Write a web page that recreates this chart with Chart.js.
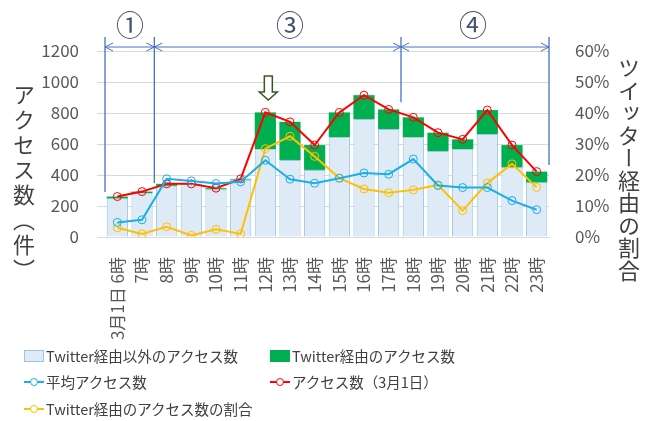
<!DOCTYPE html>
<html>
<head>
<meta charset="utf-8">
<script src="https://cdn.jsdelivr.net/npm/chart.js@4/dist/chart.umd.min.js"></script>
<style>
  body { margin: 0; background: #fff; font-family: 'Noto Sans CJK JP', sans-serif; }
  #wrap { position: relative; width: 654px; height: 421px; overflow: hidden; }
  canvas { position: absolute; left: 0; top: 0; }
  .vt { position: absolute; writing-mode: vertical-rl; color: #404040; font-size: 22px; line-height: 1; }
  .num { position: absolute; color: #44546A; font-size: 28px; line-height: 1; transform: translate(-50%, -50%); }
  .lg { position: absolute; font-size: 14.5px; color: #404040; line-height: 1; display: flex; align-items: center; }
  .sw { display: inline-block; width: 18px; height: 10px; margin-right: 2px; }
  .ln { position: relative; display: inline-block; width: 20px; height: 10px; margin-right: 2px; }
  .ln::before { content: ''; position: absolute; left: 0; right: 0; top: 4px; height: 2px; background: var(--c); }
  .ln::after { content: ''; position: absolute; left: 6px; top: 1px; width: 6px; height: 6px; border: 1px solid var(--c); border-radius: 50%; background: #fff; }
</style>
</head>
<body>
<div id="wrap">
  <canvas id="chart" width="654" height="421"></canvas>
  <div class="vt" style="left:13px; top:84px; letter-spacing:3px;">アクセス数（件）</div>
  <div class="vt" style="left:618px; top:57px; letter-spacing:0.5px;">ツイッター経由の割合</div>
  <div class="num" style="left:130px; top:24px;">①</div>
  <div class="num" style="left:290px; top:24px;">③</div>
  <div class="num" style="left:473px; top:24px;">④</div>

  <div class="lg" style="left:24px; top:349px;"><span class="sw" style="background:#DEEBF7; border:1px solid #9DC3E6;"></span>Twitter経由以外のアクセス数</div>
  <div class="lg" style="left:270px; top:349px;"><span class="sw" style="background:#00B050; width:20px; height:12px;"></span>Twitter経由のアクセス数</div>
  <div class="lg" style="left:24px; top:375px;"><span class="ln" style="--c:#1AAFE6;"></span>平均アクセス数</div>
  <div class="lg" style="left:270px; top:375px;"><span class="ln" style="--c:#FF0000;"></span>アクセス数（3月1日）</div>
  <div class="lg" style="left:24px; top:402px;"><span class="ln" style="--c:#FFC000;"></span>Twitter経由のアクセス数の割合</div>
</div>
<script>
// data
const hours = ['3月1日 6時', '7時', '8時', '9時', '10時', '11時', '12時', '13時', '14時',
  '15時', '16時', '17時', '18時', '19時', '20時', '21時', '22時', '23時'];
const otherAccess = [248, 283, 330, 340, 307, 370, 566, 497, 433, 643, 761, 696, 643, 555, 566, 664, 448, 351];
const twitterAccess = [13, 10, 13, 3, 8, 5, 238, 246, 160, 161, 154, 127, 129, 118, 64, 155, 145, 71];
const avgAccess = [94, 111, 375, 362, 345, 356, 495, 373, 347, 379, 413, 405, 503, 332, 319, 319, 235, 176];
const totalAccess = [261, 293, 343, 343, 315, 375, 804, 743, 593, 804, 915, 823, 772, 673, 630, 819, 593, 422];
const twitterRatio = [3, 1, 3.3, 0.5, 2.5, 1, 28.5, 32.5, 26, 19, 15.5, 14.3, 15.2, 16.8, 8.5, 17.4, 23.6, 16];

Chart.defaults.font.family = "'Noto Sans CJK JP', sans-serif";
Chart.defaults.color = '#595959';

// arrows and section lines over the plot
const marks = {
  id: 'marks',
  afterDatasetsDraw(chart) {
    const { ctx, chartArea: a, scales: { x, y } } = chart;
    const mid = i => (x.getPixelForValue(i) + x.getPixelForValue(i + 1)) / 2;
    const xs = [a.left, mid(1), mid(11), a.right];
    const ends = [291, 349, 870, 465];
    const ay = a.top - 4;
    ctx.save();
    ctx.strokeStyle = '#4472C4';
    ctx.lineWidth = 1.3;
    xs.forEach((px, i) => {
      ctx.beginPath();
      ctx.moveTo(px, a.top - 14);
      ctx.lineTo(px, y.getPixelForValue(ends[i]));
      ctx.stroke();
    });
    ctx.lineWidth = 1;
    for (let i = 0; i < 3; i++) {
      const l = xs[i], r = xs[i + 1];
      ctx.beginPath();
      ctx.moveTo(l, ay); ctx.lineTo(r, ay);
      ctx.moveTo(l + 8, ay - 4); ctx.lineTo(l, ay); ctx.lineTo(l + 8, ay + 4);
      ctx.moveTo(r - 8, ay - 4); ctx.lineTo(r, ay); ctx.lineTo(r - 8, ay + 4);
      ctx.stroke();
    }
    // down arrow above 12時
    const cx = x.getPixelForValue(6) + 3, t = a.top + 25;
    ctx.beginPath();
    ctx.moveTo(cx - 4, t); ctx.lineTo(cx + 4, t); ctx.lineTo(cx + 4, t + 16);
    ctx.lineTo(cx + 9, t + 16); ctx.lineTo(cx, t + 24); ctx.lineTo(cx - 9, t + 16);
    ctx.lineTo(cx - 4, t + 16); ctx.closePath();
    ctx.fillStyle = '#fff';
    ctx.fill();
    ctx.strokeStyle = '#385723';
    ctx.lineWidth = 1.5;
    ctx.stroke();
    ctx.restore();
  }
};

const lineStyle = c => ({
  type: 'line', borderColor: c, borderWidth: 2, pointRadius: 4,
  pointBorderColor: c, pointBackgroundColor: 'rgba(255,255,255,0)', pointBorderWidth: 1, order: 1
});

new Chart(document.getElementById('chart'), {
  data: {
    labels: hours,
    datasets: [
      { type: 'bar', label: 'Twitter経由以外のアクセス数', data: otherAccess, backgroundColor: '#DEEBF7',
        borderColor: '#9DC3E6', borderWidth: 1, stack: 'bars', order: 2 },
      { type: 'bar', label: 'Twitter経由のアクセス数', data: twitterAccess, backgroundColor: '#00B050',
        borderWidth: 0, stack: 'bars', order: 2 },
      { ...lineStyle('#1AAFE6'), label: '平均アクセス数', data: avgAccess, stack: 'avg' },
      { ...lineStyle('#FF0000'), label: 'アクセス数（3月1日）', data: totalAccess, stack: 'total' },
      { ...lineStyle('#FFC000'), label: 'Twitter経由のアクセス数の割合', data: twitterRatio, yAxisID: 'y1' }
    ]
  },
  options: {
    responsive: false,
    animation: false,
    layout: { padding: { top: 51, left: 0, right: 0, bottom: 0 } },
    datasets: { bar: { barPercentage: 0.86, categoryPercentage: 1 } },
    plugins: { legend: { display: false }, tooltip: { enabled: false } },
    scales: {
      x: {
        stacked: true,
        grid: { display: false },
        border: { color: '#D9D9D9' },
        ticks: { autoSkip: false, minRotation: 90, maxRotation: 90, padding: 12, font: { size: 17 } },
        afterFit: s => { s.height = 184; }
      },
      y: {
        stacked: true, min: 0, max: 1200,
        grid: { color: '#D9D9D9' },
        border: { display: false },
        ticks: { stepSize: 200, padding: 18, font: { size: 17 }, callback: v => String(v) },
        afterFit: s => { s.width = 105; }
      },
      y1: {
        position: 'right', min: 0, max: 60,
        grid: { display: false },
        border: { display: false },
        ticks: { stepSize: 10, padding: 18, font: { size: 17 }, callback: v => v + '%' },
        afterFit: s => { s.width = 105; }
      }
    }
  },
  plugins: [marks]
});
</script>
</body>
</html>
